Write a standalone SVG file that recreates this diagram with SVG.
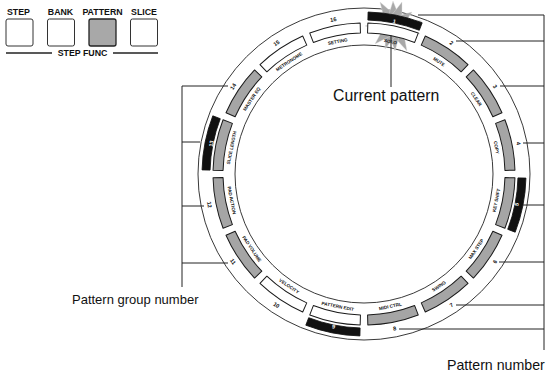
<svg xmlns="http://www.w3.org/2000/svg" xmlns:xlink="http://www.w3.org/1999/xlink" width="556" height="374" viewBox="0 0 556 374">
<style>
text{font-family:"Liberation Sans",Arial,sans-serif;fill:#111}
.btnl{font-size:8.8px;font-weight:bold;text-anchor:middle}
.cap{font-size:15.8px}
.lab{font-size:4.6px;font-weight:bold;text-anchor:middle;dominant-baseline:central}
.num{font-size:5.6px;font-weight:bold;text-anchor:middle;dominant-baseline:central}
.inv{fill:#fff}
.btn{fill:#fff;stroke:#333;stroke-width:1}
.btn.on{fill:#a8a8a8;stroke:#222;stroke-width:1.3}
.ring{fill:none;stroke:#222;stroke-width:0.9}
.bw{fill:#fff;stroke:#1a1a1a;stroke-width:1;stroke-linejoin:round}
.bg{fill:#a5a5a5;stroke:#1a1a1a;stroke-width:1;stroke-linejoin:round}
.nb{fill:#111;stroke:#111;stroke-width:0.8;stroke-linejoin:round}
.ray{fill:#a8a8a8;stroke:#e0e0e0;stroke-width:0.4}
.ln{fill:none;stroke:#222;stroke-width:1}
</style>
<defs>
<path id="box" d="M338.30,25.20 A151,151 0 0 1 389.70,25.20 L388.00,35.06 A141,141 0 0 0 340.00,35.06 Z"/>
<path id="nbox" d="M336.43,14.36 A162,162 0 0 1 391.57,14.36 L390.21,22.25 A154,154 0 0 0 337.79,22.25 Z"/>
<path id="back" d="M336.43,14.36 A162,162 0 0 1 391.57,14.36 L388.00,35.06 A141,141 0 0 0 340.00,35.06 Z"/>
</defs>

<g id="buttons">
<text class="btnl" x="18.5" y="15">STEP</text>
<text class="btnl" x="60.5" y="15">BANK</text>
<text class="btnl" x="102.5" y="15">PATTERN</text>
<text class="btnl" x="144" y="15">SLICE</text>
<rect class="btn" x="6" y="19" width="27" height="27" rx="2"/>
<rect class="btn" x="47.5" y="19" width="27" height="27" rx="2"/>
<rect class="btn on" x="89" y="19" width="27" height="27" rx="2"/>
<rect class="btn" x="130.5" y="19" width="27" height="27" rx="2"/>
<line x1="6" y1="53" x2="52" y2="53" stroke="#222" stroke-width="1.4"/>
<line x1="113" y1="53" x2="158" y2="53" stroke="#222" stroke-width="1.4"/>
<text class="btnl" x="82.5" y="56.2">STEP FUNC</text>
</g>

<g id="ring">
<circle class="ring" cx="364" cy="174" r="166"/>
<circle class="ring" cx="364" cy="174" r="129"/>
</g>

<g id="rays">
<polygon class="ray" points="380,2 393.8,14.09 384.4,19.81"/>
<polygon class="ray" points="393,1 399.15,16.37 388.15,16.83"/>
<polygon class="ray" points="402,2 402,18.75 391.6,15.15"/>
<polygon class="ray" points="412,12 403.52,24.91 397.08,15.99"/>
<polygon class="ray" points="422,21 404.58,29.04 403.02,18.16"/>
<polygon class="ray" points="420,34 401.3,33.35 404.9,22.95"/>
<polygon class="ray" points="407,51 393.64,36.56 403.46,31.64"/>
<polygon class="ray" points="395,51 388.85,34.31 399.85,33.89"/>
<polygon class="ray" points="385,49 385.69,31.46 396.01,35.34"/>
<polygon class="ray" points="375,44 383.46,27.76 391.24,35.54"/>
<polygon class="ray" points="365,26 383.66,19.85 384.04,30.85"/>
<polygon class="ray" points="368,12 387.36,15.54 382.44,25.36"/>
</g>

<g id="pad-1" transform="rotate(11.25 364 174)">
<use href="#back" fill="#fff"/>
<use href="#box" class="bw"/>
<use href="#nbox" class="nb"/>
<text class="num inv" x="364" y="18.3">1</text>
<text class="lab" x="364" y="39">SOLO</text>
</g>
<g id="pad-2" transform="rotate(33.75 364 174)">
<use href="#box" class="bg"/>
<text class="num" x="364" y="16.5">2</text>
<text class="lab" x="364" y="39">MUTE</text>
</g>
<g id="pad-3" transform="rotate(56.25 364 174)">
<use href="#box" class="bg"/>
<text class="num" x="364" y="16.5">3</text>
<text class="lab" x="364" y="39">CLEAR</text>
</g>
<g id="pad-4" transform="rotate(78.75 364 174)">
<use href="#box" class="bg"/>
<text class="num" x="364" y="16.5">4</text>
<text class="lab" x="364" y="39">COPY</text>
</g>
<g id="pad-5" transform="rotate(-78.75 364 174)">
<use href="#box" class="bg" transform="rotate(180 364 174)"/>
<use href="#nbox" class="nb" transform="rotate(180 364 174)"/>
<text class="num inv" x="364" y="329.7">5</text>
<text class="lab" x="364" y="309">KEY SHIFT</text>
</g>
<g id="pad-6" transform="rotate(-56.25 364 174)">
<use href="#box" class="bg" transform="rotate(180 364 174)"/>
<text class="num" x="364" y="331.5">6</text>
<text class="lab" x="364" y="309">MAX STEP</text>
</g>
<g id="pad-7" transform="rotate(-33.75 364 174)">
<use href="#box" class="bg" transform="rotate(180 364 174)"/>
<text class="num" x="364" y="331.5">7</text>
<text class="lab" x="364" y="309">SWING</text>
</g>
<g id="pad-8" transform="rotate(-11.25 364 174)">
<use href="#box" class="bg" transform="rotate(180 364 174)"/>
<text class="num" x="364" y="331.5">8</text>
<text class="lab" x="364" y="309">MIDI CTRL</text>
</g>
<g id="pad-9" transform="rotate(11.25 364 174)">
<use href="#box" class="bw" transform="rotate(180 364 174)"/>
<use href="#nbox" class="nb" transform="rotate(180 364 174)"/>
<text class="num inv" x="364" y="329.7">9</text>
<text class="lab" x="364" y="309">PATTERN EDIT</text>
</g>
<g id="pad-10" transform="rotate(33.75 364 174)">
<use href="#box" class="bw" transform="rotate(180 364 174)"/>
<text class="num" x="364" y="331.5">10</text>
<text class="lab" x="364" y="309">VELOCITY</text>
</g>
<g id="pad-11" transform="rotate(56.25 364 174)">
<use href="#box" class="bg" transform="rotate(180 364 174)"/>
<text class="num" x="364" y="331.5">11</text>
<text class="lab" x="364" y="309">PAD VOLUME</text>
</g>
<g id="pad-12" transform="rotate(78.75 364 174)">
<use href="#box" class="bg" transform="rotate(180 364 174)"/>
<text class="num" x="364" y="331.5">12</text>
<text class="lab" x="364" y="309">PAD ACTION</text>
</g>
<g id="pad-13" transform="rotate(-78.75 364 174)">
<use href="#box" class="bg"/>
<use href="#nbox" class="nb"/>
<text class="num inv" x="364" y="18.3">13</text>
<text class="lab" x="364" y="39">SLICE LENGTH</text>
</g>
<g id="pad-14" transform="rotate(-56.25 364 174)">
<use href="#box" class="bg"/>
<text class="num" x="364" y="16.5">14</text>
<text class="lab" x="364" y="39">MASTER EQ</text>
</g>
<g id="pad-15" transform="rotate(-33.75 364 174)">
<use href="#box" class="bw"/>
<text class="num" x="364" y="16.5">15</text>
<text class="lab" x="364" y="39">METRONOME</text>
</g>
<g id="pad-16" transform="rotate(-11.25 364 174)">
<use href="#box" class="bw"/>
<text class="num" x="364" y="16.5">16</text>
<text class="lab" x="364" y="39">SETTING</text>
</g>

<g id="connectors">
<line class="ln" x1="391" y1="35.5" x2="391" y2="87"/>
<polyline class="ln" points="418,15 544,15 544,350"/>
<line class="ln" x1="456" y1="41" x2="544" y2="41"/>
<line class="ln" x1="500" y1="86" x2="544" y2="86"/>
<line class="ln" x1="523" y1="143" x2="544" y2="143"/>
<line class="ln" x1="523" y1="205" x2="544" y2="205"/>
<line class="ln" x1="499" y1="262" x2="544" y2="262"/>
<line class="ln" x1="456" y1="305" x2="544" y2="305"/>
<line class="ln" x1="399" y1="329" x2="544" y2="329"/>
<polyline class="ln" points="228,86 182,86 182,287"/>
<line class="ln" x1="200" y1="142" x2="182" y2="142"/>
<line class="ln" x1="204" y1="206" x2="182" y2="206"/>
<line class="ln" x1="228" y1="263" x2="182" y2="263"/>
</g>

<g id="captions">
<text class="cap" x="333" y="101">Current pattern</text>
<text class="cap" x="72" y="304" style="font-size:13px">Pattern group number</text>
<text class="cap" x="447" y="370" style="font-size:14.2px">Pattern number</text>
</g>
</svg>
